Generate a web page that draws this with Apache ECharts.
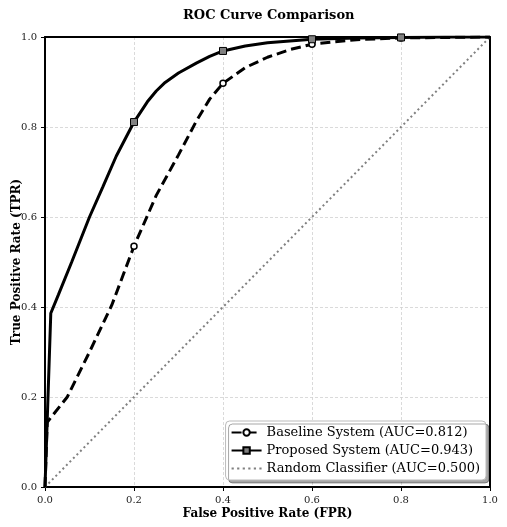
<!DOCTYPE html>
<html>
<head>
<meta charset="utf-8">
<script src="https://cdn.jsdelivr.net/npm/echarts@6/dist/echarts.min.js"></script>
<style>
  html, body { margin: 0; padding: 0; background: #fff; }
  #chart { width: 507px; height: 527px; }
</style>
</head>
<body>
<div id="chart"></div>
<script>
// values
const baselineFpr = [0, 0.005, 0.05, 0.1, 0.15, 0.2, 0.25, 0.3, 0.34, 0.37, 0.4, 0.45, 0.5, 0.55, 0.6, 0.7, 0.8, 0.9, 1.0];
const baselineTpr = [0, 0.144, 0.2, 0.3, 0.404, 0.535, 0.648, 0.738, 0.813, 0.862, 0.897, 0.932, 0.955, 0.972, 0.984, 0.994, 0.998, 0.999, 1.0];
const proposedFpr = [0, 0.013, 0.03, 0.06, 0.1, 0.13, 0.16, 0.2, 0.23, 0.25, 0.27, 0.3, 0.34, 0.37, 0.4, 0.45, 0.5, 0.6, 0.7, 0.8, 0.9, 1.0];
const proposedTpr = [0, 0.386, 0.427, 0.5, 0.6, 0.667, 0.735, 0.811, 0.856, 0.88, 0.899, 0.92, 0.942, 0.957, 0.969, 0.98, 0.987, 0.995, 0.998, 0.999, 1.0, 1.0];
const randomFpr = [0, 1];
const randomTpr = [0, 1];
const markerFpr = [0.2, 0.4, 0.6, 0.8];
const legendNames = ['Baseline System (AUC=0.812)', 'Proposed System (AUC=0.943)', 'Random Classifier (AUC=0.500)'];

const serif = 'DejaVu Serif';

function points(xs, ys) {
  return xs.map((x, i) => ({
    value: [x, ys[i]],
    symbol: markerFpr.includes(x) ? undefined : 'none'
  }));
}

const chart = echarts.init(document.getElementById('chart'));
const axisCommon = {
  type: 'value', min: 0, max: 1, interval: 0.2,
  axisLine: { show: true, onZero: false, lineStyle: { color: '#000', width: 2 } },
  axisTick: { show: true, length: 4, lineStyle: { color: '#000', width: 1 } },
  axisLabel: { fontFamily: serif, fontSize: 10, color: '#1a1a1a', formatter: v => v.toFixed(1) },
  splitLine: { show: true, lineStyle: { color: '#d0d0d0', type: [3, 2], width: 0.8 } },
  nameLocation: 'middle',
  nameMoveOverlap: false,
  nameTextStyle: { fontFamily: serif, fontSize: 12, fontWeight: 'bold', color: '#000' }
};
// top / right frame lines
const frameAxis = pos => ({
  type: 'value', min: 0, max: 1, position: pos,
  axisLine: { show: true, onZero: false, lineStyle: { color: '#000', width: 2 } },
  axisTick: { show: false }, axisLabel: { show: false }, splitLine: { show: false }
});

chart.setOption({
  animation: false,
  title: {
    text: 'ROC Curve Comparison', left: 178, top: 4,
    textStyle: { fontFamily: serif, fontSize: 13, fontWeight: 'bold', color: '#000' }
  },
  grid: { left: 45, right: 17, top: 37, bottom: 40, outerBoundsMode: 'none', containLabel: false },
  xAxis: [
    Object.assign({}, axisCommon, { name: 'False Positive Rate (FPR)', nameGap: 21, position: 'bottom' }),
    frameAxis('top')
  ],
  yAxis: [
    Object.assign({}, axisCommon, { name: 'True Positive Rate (TPR)', nameGap: 22, position: 'left' }),
    frameAxis('right')
  ],
  legend: {
    orient: 'vertical', right: 21, bottom: 47,
    backgroundColor: '#fff', borderColor: '#bbb', borderWidth: 1, borderRadius: 4,
    shadowColor: 'rgba(0,0,0,0.35)', shadowOffsetX: 3, shadowOffsetY: 3, shadowBlur: 0,
    padding: [5, 6, 5, 5], itemGap: 5, itemWidth: 30, itemHeight: 8,
    textStyle: { fontFamily: serif, fontSize: 13, color: '#000' },
    data: [
      { name: legendNames[0] },
      { name: legendNames[1] },
      {
        name: legendNames[2],
        icon: 'path://M0,0h2v2h-2z M5,0h2v2h-2z M10,0h2v2h-2z M15,0h2v2h-2z M20,0h2v2h-2z M25,0h2v2h-2z',
        itemStyle: { color: '#808080' }
      }
    ]
  },
  series: [
    {
      name: legendNames[2], type: 'line', symbol: 'none', z: 1,
      data: randomFpr.map((x, i) => [x, randomTpr[i]]),
      lineStyle: { color: '#808080', width: 2, type: [2, 3] },
      itemStyle: { color: '#808080' }
    },
    {
      name: legendNames[0], type: 'line', z: 3,
      symbol: 'circle', symbolSize: 6,
      data: points(baselineFpr, baselineTpr),
      lineStyle: { color: '#000', width: 3, type: [10, 5] },
      itemStyle: { color: '#fff', borderColor: '#000', borderWidth: 1.5 }
    },
    {
      name: legendNames[1], type: 'line', z: 4,
      symbol: 'rect', symbolSize: 7,
      data: points(proposedFpr, proposedTpr),
      lineStyle: { color: '#000', width: 3 },
      itemStyle: { color: '#808080', borderColor: '#000', borderWidth: 1 }
    }
  ]
});
</script>
</body>
</html>
